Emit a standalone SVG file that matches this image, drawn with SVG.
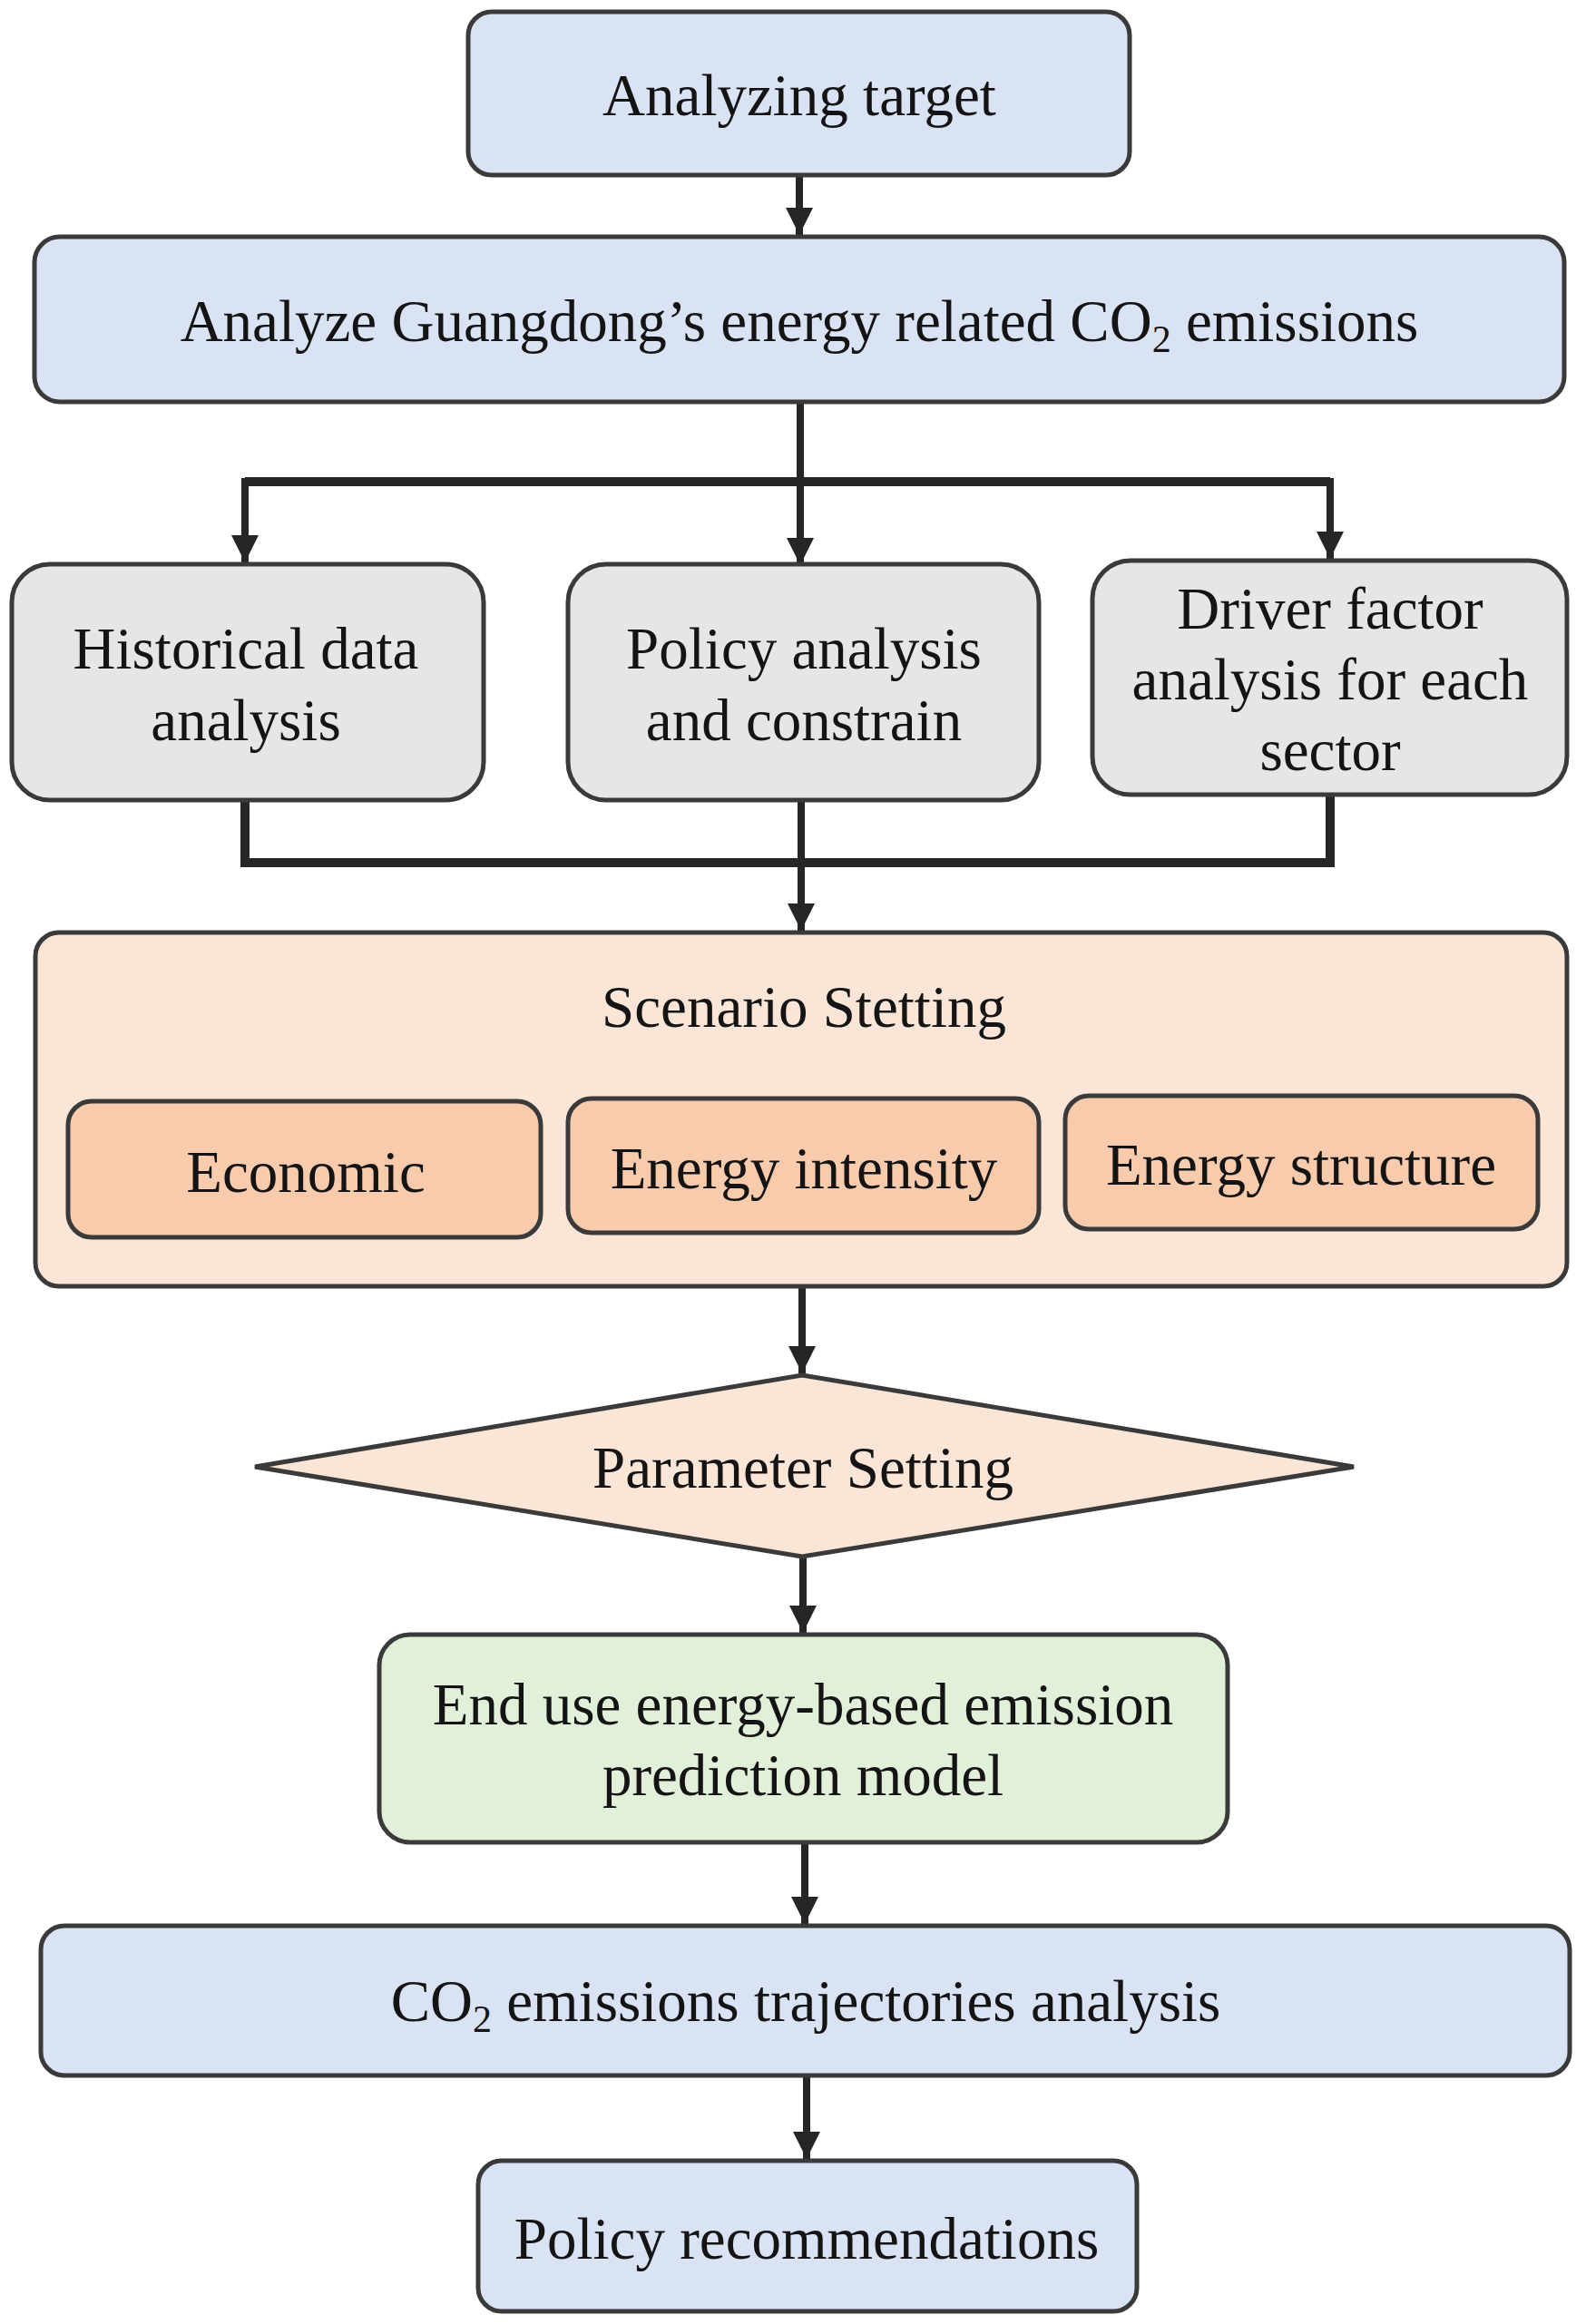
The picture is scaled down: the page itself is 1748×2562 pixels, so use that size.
<svg xmlns="http://www.w3.org/2000/svg" width="1748" height="2562" viewBox="0 0 1748 2562">
<style>
.box{stroke:#3a3a3a;stroke-width:5}
.blue{fill:#dae3f3}
.grey{fill:#e6e6e6}
.peach{fill:#fbe5d6}
.orange{fill:#f8cbad}
.green{fill:#e2f0d9}
.t{font-family:"Liberation Serif","Times New Roman",serif;font-size:65px;fill:#141414;text-anchor:middle}
.sub{font-size:42px}
.c{fill:none;stroke:#262626;stroke-width:8}
.bar{fill:none;stroke:#262626;stroke-width:10}
</style>
<defs>
<marker id="ah" markerUnits="userSpaceOnUse" markerWidth="32" markerHeight="32" refX="30" refY="15" orient="auto">
<path d="M0,0 L30,15 L0,30 Z" fill="#262626"/>
</marker>
</defs>
<rect width="1748" height="2562" fill="#ffffff"/>
<g id="connectors">
<path class="c" d="M881,193 L881,259" marker-end="url(#ah)"/>
<path class="c" d="M882,443 L882,531"/>
<path class="bar" d="M270,531 L1466,531"/>
<path class="c" d="M270,527 L270,620" marker-end="url(#ah)"/>
<path class="c" d="M882,531 L882,623" marker-end="url(#ah)"/>
<path class="c" d="M1466,527 L1466,616" marker-end="url(#ah)"/>
<path class="bar" d="M270,882 L270,951 L1466,951 L1466,876"/>
<path class="c" d="M883,882 L883,1026" marker-end="url(#ah)"/>
<path class="c" d="M884,1418 L884,1514" marker-end="url(#ah)"/>
<path class="c" d="M885,1716 L885,1800" marker-end="url(#ah)"/>
<path class="c" d="M887,2031 L887,2121" marker-end="url(#ah)"/>
<path class="c" d="M889,2288 L889,2380" marker-end="url(#ah)"/>
</g>
<g id="analyzing-target">
<rect class="box blue" x="516" y="13" width="729" height="180" rx="26"/>
<text class="t" x="881" y="127">Analyzing target</text>
</g>
<g id="analyze-co2">
<rect class="box blue" x="38" y="261" width="1686" height="182" rx="28"/>
<text class="t" x="881" y="376">Analyze Guangdong’s energy related CO<tspan class="sub" dy="12">2</tspan><tspan dy="-12"> emissions</tspan></text>
</g>
<g id="historical">
<rect class="box grey" x="13" y="622" width="520" height="260" rx="42"/>
<text class="t" x="271" y="737">Historical data</text>
<text class="t" x="271" y="816">analysis</text>
</g>
<g id="policy-analysis">
<rect class="box grey" x="626" y="622" width="519" height="260" rx="42"/>
<text class="t" x="886" y="737">Policy analysis</text>
<text class="t" x="886" y="816">and constrain</text>
</g>
<g id="driver-factor">
<rect class="box grey" x="1204" y="618" width="523" height="258" rx="42"/>
<text class="t" x="1466" y="693">Driver factor</text>
<text class="t" x="1466" y="771">analysis for each</text>
<text class="t" x="1466" y="849">sector</text>
</g>
<g id="scenario-setting">
<rect class="box peach" x="39" y="1028" width="1688" height="390" rx="26"/>
<text class="t" x="886" y="1132">Scenario Stetting</text>
</g>
<g id="economic">
<rect class="box orange" x="75" y="1214" width="521" height="150" rx="26"/>
<text class="t" x="337" y="1314">Economic</text>
</g>
<g id="energy-intensity">
<rect class="box orange" x="626" y="1211" width="519" height="148" rx="26"/>
<text class="t" x="886" y="1310">Energy intensity</text>
</g>
<g id="energy-structure">
<rect class="box orange" x="1174" y="1208" width="521" height="147" rx="26"/>
<text class="t" x="1434" y="1306">Energy structure</text>
</g>
<g id="parameter-setting">
<polygon class="box peach" points="884,1516 1492,1617 884,1716 281,1617"/>
<text class="t" x="885" y="1640">Parameter Setting</text>
</g>
<g id="prediction-model">
<rect class="box green" x="418" y="1802" width="935" height="229" rx="34"/>
<text class="t" x="885" y="1901">End use energy-based emission</text>
<text class="t" x="885" y="1979">prediction model</text>
</g>
<g id="co2-trajectories">
<rect class="box blue" x="45" y="2123" width="1685" height="165" rx="26"/>
<text class="t" x="888" y="2228">CO<tspan class="sub" dy="12">2</tspan><tspan dy="-12"> emissions trajectories analysis</tspan></text>
</g>
<g id="policy-recommendations">
<rect class="box blue" x="527" y="2382" width="726" height="166" rx="26"/>
<text class="t" x="889" y="2490">Policy recommendations</text>
</g>
</svg>
